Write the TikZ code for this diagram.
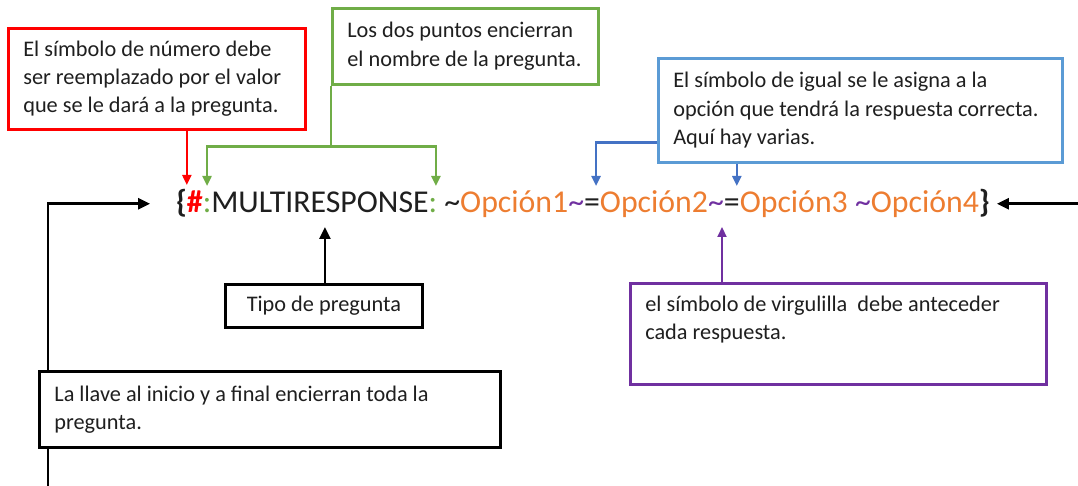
\documentclass[tikz,border=0pt]{standalone}
\usepackage{fontspec}
\setmainfont{Carlito}
\usepackage{tikz}
\usetikzlibrary{arrows.meta,positioning}
\definecolor{palRed}{HTML}{FF0000}
\definecolor{palGreen}{HTML}{70AD47}
\definecolor{palBlue}{HTML}{5B9BD5}
\definecolor{palBlueDark}{HTML}{4472C4}
\definecolor{palPurple}{HTML}{7030A0}
\definecolor{palOrange}{HTML}{ED7D31}
\newcommand{\notefont}{\fontsize{22.3}{28.3}\selectfont}
\newcommand{\codefont}{\fontsize{31.8}{38}\selectfont}

\begin{document}
\begin{tikzpicture}[
  x=1pt, y=-1pt,
  font=\notefont,
  note/.style={draw, line width=2.6pt, fill=white, text=black!88, align=left, anchor=north west, inner xsep=15pt, inner ysep=0pt,
    execute at begin node={\spaceskip=0pt\xspaceskip=0pt\hyphenpenalty=10000\relax}},
  rednote/.style={note, draw=palRed},
  greennote/.style={note, draw=palGreen},
  bluenote/.style={note, draw=palBlue},
  purplenote/.style={note, draw=palPurple},
  blacknote/.style={note, draw=black, line width=2.8pt},
  code/.style={font=\codefont, inner sep=0pt, outer sep=0pt, text=black!88},
  codenext/.style={code, base right=0pt of #1},
  arrow/.style={-{Triangle[length=10pt,width=9pt]}, line width=2.2pt},
  redarrow/.style={arrow, palRed},
  greenarrow/.style={arrow, palGreen},
  bluearrow/.style={arrow, palBlueDark},
  purplearrow/.style={arrow, palPurple},
  blackarrow/.style={-{Triangle[length=12pt,width=11pt]}, line width=2.6pt, black},
]
\useasboundingbox (0,0) rectangle (1078,486);

% the question line, one node per piece
\node[code, anchor=base west, font=\codefont\bfseries] (lbrace) at (176,213) {\{};
\node[codenext=lbrace, text=palRed, font=\codefont\bfseries] (hash) {\#};
\node[codenext=hash, text=palGreen] (col1) {:};
\node[codenext=col1] (qtype) {MULTIRESPONSE};
\node[codenext=qtype, text=palGreen] (col2) {:};
\node[codenext=col2] (til0) {\ \textasciitilde};
\node[codenext=til0, text=palOrange] (opt1) {Opción1};
\node[codenext=opt1, text=palPurple] (til1) {\textasciitilde};
\node[codenext=til1] (eq1) {=};
\node[codenext=eq1, text=palOrange] (opt2) {Opción2};
\node[codenext=opt2, text=palPurple] (til2) {\textasciitilde};
\node[codenext=til2] (eq2) {=};
\node[codenext=eq2, text=palOrange] (opt3) {Opción3};
\node[codenext=opt3, text=palPurple] (til3) {\ \textasciitilde};
\node[codenext=til3, text=palOrange] (opt4) {Opción4};
\node[codenext=opt4, font=\codefont\bfseries] (rbrace) {\}};

% notes
\node[rednote, minimum width=297pt, minimum height=101pt, text width=267pt] (numnote) at (7,27)
  {El símbolo de número debe\\ser reemplazado por el valor\\que se le dará a la pregunta.};
\node[greennote, minimum width=266pt, minimum height=76pt, text width=236pt] (colnote) at (331,7)
  {Los dos puntos encierran\\el nombre de la pregunta.};
\node[bluenote, minimum width=404pt, minimum height=104pt, text width=374pt] (eqnote) at (657,57)
  {El símbolo de igual se le asigna a la\\opción que tendrá la respuesta correcta.\\Aquí hay varias.};
\node[purplenote, minimum width=416pt, minimum height=101pt, text width=386pt, text depth=60pt] (tilnote) at (629,282)
  {el símbolo de virgulilla\ \ debe anteceder\\cada respuesta.};
\node[blacknote, minimum width=197pt, minimum height=43pt, align=center, inner xsep=0pt] (typenote) at (224,283)
  {Tipo de pregunta};

% connectors
\draw[redarrow] ([xshift=-8pt]numnote.south -| hash) -- ([xshift=-8pt,yshift=28pt]hash.base);

\coordinate (colsplit) at ([yshift=-61pt]colnote.south west);
\draw[greenarrow] (colnote.south west) -- (colsplit) -| ([yshift=27pt]col1.base);
\draw[greenarrow] (colsplit) -| ([xshift=3pt,yshift=27pt]col2.base);

\draw[bluearrow] ([yshift=21pt]eqnote.south west) -| ([xshift=4pt,yshift=27pt]eq1.base);
\draw[bluearrow] ([xshift=5pt]eqnote.south -| eq2) -- ([xshift=5pt,yshift=27pt]eq2.base);

\draw[purplearrow] ([xshift=6pt]tilnote.north -| til2) -- ([xshift=6pt,yshift=-14pt]til2.base);

\coordinate (typetip) at ([xshift=5pt,yshift=-14pt]qtype.base);
\draw[blackarrow] (typenote.north -| typetip) -- (typetip);

% the braces, arrows from both sides
\coordinate (leftfoot) at (48,486);
\draw[blackarrow, shorten >=26pt] (leftfoot) |- (lbrace.west);
\coordinate (rightin) at (rbrace.east -| 1078,0);
\draw[blackarrow, shorten >=7pt] (rightin) -- (rbrace.east);

\node[blacknote, minimum width=461pt, minimum height=76pt, text width=431pt] (bracenote) at (38,370)
  {La llave al inicio y a final encierran toda la\\pregunta.};
\end{tikzpicture}
\end{document}
